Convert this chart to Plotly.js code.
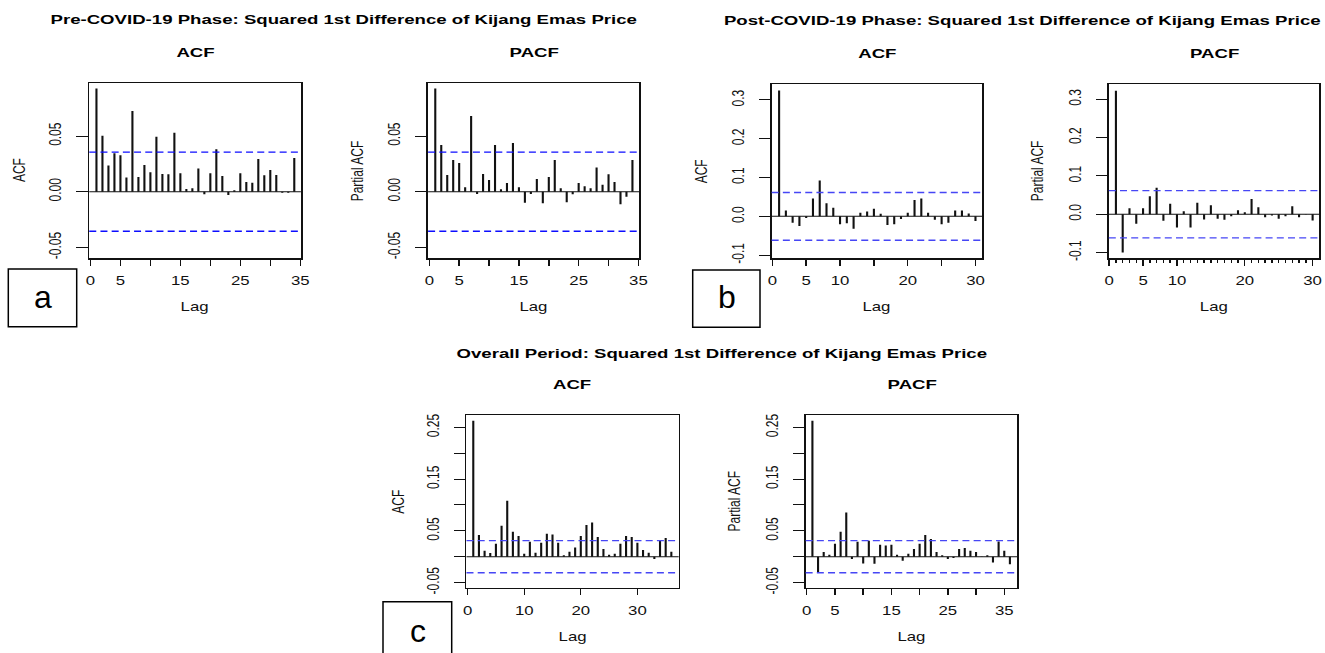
<!DOCTYPE html>
<html>
<head>
<meta charset="utf-8">
<script src="https://cdn.plot.ly/plotly-3.0.1.min.js"></script>
<style>
html,body{margin:0;padding:0;background:#fff;overflow:hidden}
#wrap{position:relative;width:1325px;height:653px;overflow:hidden;background:#fff}
#chart{position:absolute;left:0;top:0;width:946.43px;height:653px;transform:scaleX(1.4);transform-origin:0 0}
#overlay{position:absolute;left:0;top:0;width:1325px;height:653px;pointer-events:none}
</style>
</head>
<body>
<div id="wrap"><div id="chart"></div><div id="overlay"></div></div>
<script>
// ---------------- data ----------------
const preLags  = [1,2,3,4,5,6,7,8,9,10,11,12,13,14,15,16,17,18,19,20,21,22,23,24,25,26,27,28,29,30,31,32,33,34];
const preACF   = [0.0928,0.0503,0.0234,0.0344,0.0326,0.0126,0.0725,0.0132,0.0240,0.0174,0.0494,0.0159,0.0156,0.0530,0.0165,0.0024,0.0030,0.0207,-0.0024,0.0165,0.0380,0.0141,-0.0030,0.0012,0.0165,0.0087,0.0081,0.0293,0.0147,0.0195,0.0150,-0.0010,-0.0010,0.0302];
const prePACF  = [0.0928,0.0419,0.0150,0.0284,0.0257,0.0039,0.0680,-0.0021,0.0159,0.0105,0.0419,0.0021,0.0078,0.0437,0.0039,-0.0099,-0.0021,0.0114,-0.0105,0.0132,0.0284,0.0030,-0.0096,-0.0024,0.0078,0.0048,0.0030,0.0216,0.0063,0.0156,0.0087,-0.0114,-0.0045,0.0284];
const preCI    = 0.0356;

const postLags = [1,2,3,4,5,6,7,8,9,10,11,12,13,14,15,16,17,18,19,20,21,22,23,24,25,26,27,28,29,30];
const postACF  = [0.324,0.0154,-0.0162,-0.0248,-0.0043,0.0460,0.0923,0.0340,0.0220,-0.0205,-0.0180,-0.0316,0.0094,0.0128,0.0197,0.0068,-0.0222,-0.0205,-0.0068,0.0094,0.0419,0.0460,0.0094,-0.0085,-0.0205,-0.0162,0.0154,0.0154,0.0077,-0.0120];
const postPACF = [0.322,-0.100,0.0155,-0.0250,0.0155,0.0466,0.0690,-0.0172,0.0276,-0.0345,0.0078,-0.0345,0.0302,-0.0138,0.0233,-0.0120,-0.0147,-0.0052,0.0103,0.0052,0.0397,0.0181,-0.0078,-0.0034,-0.0120,-0.0052,0.0207,-0.0078,-0.0009,-0.0164];
const postCI   = 0.0615;

const allLags  = [1,2,3,4,5,6,7,8,9,10,11,12,13,14,15,16,17,18,19,20,21,22,23,24,25,26,27,28,29,30,31,32,33,34,35,36];
const allACF   = [0.263,0.0418,0.0116,0.0071,0.0251,0.0598,0.108,0.0483,0.0399,0.0058,0.0290,0.0077,0.0270,0.0444,0.0431,0.0270,0.0026,0.0097,0.0180,0.0399,0.0611,0.0663,0.0380,0.0148,0.0039,0.0058,0.0251,0.0399,0.0380,0.0270,0.0129,0.0077,-0.0045,0.0315,0.0360,0.0097];
const allPACF  = [0.263,-0.0303,0.0090,0.0039,0.0251,0.0483,0.0857,-0.0045,0.0290,-0.0129,0.0309,-0.0135,0.0232,0.0219,0.0232,0.0039,-0.0077,0.0058,0.0148,0.0251,0.0418,0.0341,0.0090,0.0026,-0.0045,-0.0026,0.0148,0.0167,0.0116,0.0090,0.0005,0.0026,-0.0110,0.0296,0.0116,-0.0148];
const allCI    = 0.031;

// tick labels
const xTicks35 = [0,5,10,15,20,25,30,35];
const xLabels35 = ['0','5','','15','','25','','35'];
const xTicks30 = [0,5,10,15,20,25,30];
const xLabels30 = ['0','5','10','','20','','30'];
const xTicks10 = [0,10,20,30];
const xLabels10 = ['0','10','20','30'];
const yTicksPre = [-0.05,0,0.05];
const yLabelsPre = ['-0.05','0.00','0.05'];
const yTicksPost = [-0.1,0,0.1,0.2,0.3];
const yLabelsPost = ['-0.1','0.0','0.1','0.2','0.3'];
const yTicksAll = [-0.05,0,0.05,0.10,0.15,0.20,0.25];
const yLabelsAll = ['-0.05','','0.05','','0.15','','0.25'];

const mainTitles = ['Pre-COVID-19 Phase: Squared 1st Difference of Kijang Emas Price',
                    'Post-COVID-19 Phase: Squared 1st Difference of Kijang Emas Price',
                    'Overall Period: Squared 1st Difference of Kijang Emas Price'];
const panelLetters = ['a','b','c'];

// ---------------- layout helpers ----------------
const W = 1325, H = 653, SX = 1.4;
const FONT = 'Liberation Sans, Arial, Helvetica, sans-serif';
const px = v => v / W;
const py = v => 1 - v / H;

const panels = [
  {lags:preLags,  vals:preACF,   ci:preCI,  cic:'#0d0dff', xr:[-0.2,35.1], yr:[-0.0599,0.0979], box:[89.3,301.0,82.7,258.3],   xt:xTicks35, xl:xLabels35, yt:yTicksPre,  yl:yLabelsPre,  sub:'ACF',  ylab:'ACF',         ylx:19,   minor:false},
  {lags:preLags,  vals:prePACF,  ci:preCI,  cic:'#0d0dff', xr:[-0.2,35.1], yr:[-0.0599,0.0979], box:[428.3,639.3,82.7,258.3],  xt:xTicks35, xl:xLabels35, yt:yTicksPre,  yl:yLabelsPre,  sub:'PACF', ylab:'Partial ACF', ylx:357,  minor:false},
  {lags:postLags, vals:postACF,  ci:postCI, cic:'#4646f5', xr:[-0.1,31.0], yr:[-0.108,0.341],   box:[772.0,982.7,84.0,258.3],  xt:xTicks30, xl:xLabels30, yt:yTicksPost, yl:yLabelsPost, sub:'ACF',  ylab:'ACF',         ylx:702,  minor:false},
  {lags:postLags, vals:postPACF, ci:postCI, cic:'#4646f5', xr:[-0.05,31.0],yr:[-0.115,0.3397],  box:[1109.3,1320.0,84.0,258.3],xt:xTicks30, xl:xLabels30, yt:yTicksPost, yl:yLabelsPost, sub:'PACF', ylab:'Partial ACF', ylx:1038, minor:true},
  {lags:allLags,  vals:allACF,   ci:allCI,  cic:'#4646f5', xr:[-0.2,37.3], yr:[-0.0605,0.274],  box:[466.7,679.0,415.0,588.0], xt:xTicks10, xl:xLabels10, yt:yTicksAll,  yl:yLabelsAll,  sub:'ACF',  ylab:'ACF',         ylx:398,  minor:false},
  {lags:allLags,  vals:allPACF,  ci:allCI,  cic:'#4646f5', xr:[-0.2,37.3], yr:[-0.0605,0.274],  box:[806.0,1017.7,415.0,588.0],xt:xTicks35, xl:xLabels35, yt:yTicksAll,  yl:yLabelsAll,  sub:'PACF', ylab:'Partial ACF', ylx:734,  minor:false}
];

const traces = [];
const layout = {
  width: W / SX, height: H, autosize:false,
  margin:{l:0,r:0,t:0,b:0,pad:0},
  paper_bgcolor:'#fff', plot_bgcolor:'#fff',
  showlegend:false,
  shapes:[], annotations:[],
  font:{family:FONT, color:'#111'}
};

panels.forEach((p, i) => {
  const s = i === 0 ? '' : String(i + 1);
  const xs = [], ys = [];
  p.lags.forEach((lag, k) => { xs.push(lag, lag, null); ys.push(0, p.vals[k], null); });
  traces.push({type:'scatter', mode:'lines', x:xs, y:ys, xaxis:'x'+s, yaxis:'y'+s,
               line:{color:'#111', width:1.5}, hoverinfo:'skip', showlegend:false});
  const [x0, x1, yt0, yb0] = p.box;
  const xa = {
    domain:[px(x0), px(x1)], range:p.xr, anchor:'y'+s,
    showline:true, mirror:true, linecolor:'#111', linewidth:1.2,
    ticks:'outside', ticklen:6, tickwidth:1, tickcolor:'#111',
    tickmode:'array', tickvals:p.xt, ticktext:p.xl,
    tickfont:{family:FONT, size:12, color:'#111'},
    ticklabelstandoff:5,
    showgrid:false, zeroline:false, fixedrange:true
  };
  if (p.minor) {
    xa.minor = {tickmode:'array', tickvals:[0].concat(p.lags), ticks:'outside', ticklen:3, tickwidth:1, tickcolor:'#111', showgrid:false};
  }
  const ya = {
    domain:[py(yb0), py(yt0)], range:p.yr, anchor:'x'+s,
    showline:true, mirror:true, linecolor:'#111', linewidth:1.2,
    ticks:'outside', ticklen:8, tickwidth:1, tickcolor:'#111',
    tickmode:'array', tickvals:p.yt, ticktext:p.yl, tickangle:-90,
    tickfont:{family:FONT, size:12, color:'#111'},
    ticklabelstandoff:6,
    showgrid:false, zeroline:false, fixedrange:true
  };
  layout['xaxis'+s] = xa;
  layout['yaxis'+s] = ya;
  const xd = 'x'+s+' domain', yr = 'y'+s;
  layout.shapes.push({type:'line', xref:xd, yref:yr, x0:0, x1:1, y0:0, y1:0, line:{color:'#111', width:1}});
  layout.shapes.push({type:'line', xref:xd, yref:yr, x0:0, x1:1, y0:p.ci, y1:p.ci, line:{color:p.cic, width:1.3, dash:'5px,3px'}});
  layout.shapes.push({type:'line', xref:xd, yref:yr, x0:0, x1:1, y0:-p.ci, y1:-p.ci, line:{color:p.cic, width:1.3, dash:'5px,3px'}});
  const cx = (x0 + x1) / 2, cy = (yt0 + yb0) / 2;
  // subplot title
  layout.annotations.push({text:p.sub, xref:'paper', yref:'paper', x:px(cx), y:py(yt0 - 30.5), xanchor:'center', yanchor:'middle', showarrow:false,
                           font:{family:FONT, size:13.3, weight:'bold', color:'#000'}});
  // x axis title
  layout.annotations.push({text:'Lag', xref:'paper', yref:'paper', x:px(cx), y:py(yb0 + 48.5), xanchor:'center', yanchor:'middle', showarrow:false,
                           font:{family:FONT, size:12, color:'#111'}});
  // y axis title
  layout.annotations.push({text:p.ylab, xref:'paper', yref:'paper', x:px(p.ylx), y:py(cy), xanchor:'center', yanchor:'middle', textangle:-90, showarrow:false,
                           font:{family:FONT, size:12, color:'#111'}});
});

// main titles
[[344.5,19],[1023,20],[722,353]].forEach((pos, k) => {
  layout.annotations.push({text:mainTitles[k], xref:'paper', yref:'paper', x:px(pos[0]), y:py(pos[1]), xanchor:'center', yanchor:'middle', showarrow:false,
                           font:{family:FONT, size:13.3, weight:'bold', color:'#000'}});
});

Plotly.newPlot('chart', traces, layout, {staticPlot:true, displayModeBar:false});

// overlay with the panel letters (not stretched)
const boxes = [[8.3,76.7,269,326.7],[692.7,760,270,327.3],[383,451.7,601.7,670]];
const letterPos = [[42.5,297],[726.5,297],[418,631]];
const ov = {width:W, height:H, autosize:false, margin:{l:0,r:0,t:0,b:0,pad:0},
            paper_bgcolor:'rgba(0,0,0,0)', plot_bgcolor:'rgba(0,0,0,0)',
            xaxis:{visible:false, range:[0,1], fixedrange:true}, yaxis:{visible:false, range:[0,1], fixedrange:true},
            shapes:[], annotations:[], showlegend:false};
boxes.forEach((b, k) => {
  ov.shapes.push({type:'rect', xref:'paper', yref:'paper', x0:px(b[0]), x1:px(b[1]), y0:py(b[3]), y1:py(b[2]),
                  line:{color:'#000', width:1.5}, fillcolor:'rgba(0,0,0,0)'});
  ov.annotations.push({text:panelLetters[k], xref:'paper', yref:'paper', x:px(letterPos[k][0]), y:py(letterPos[k][1]),
                       xanchor:'center', yanchor:'middle', showarrow:false, font:{family:FONT, size:32, color:'#000'}});
});
Plotly.newPlot('overlay', [], ov, {staticPlot:true, displayModeBar:false});
</script>
</body>
</html>
